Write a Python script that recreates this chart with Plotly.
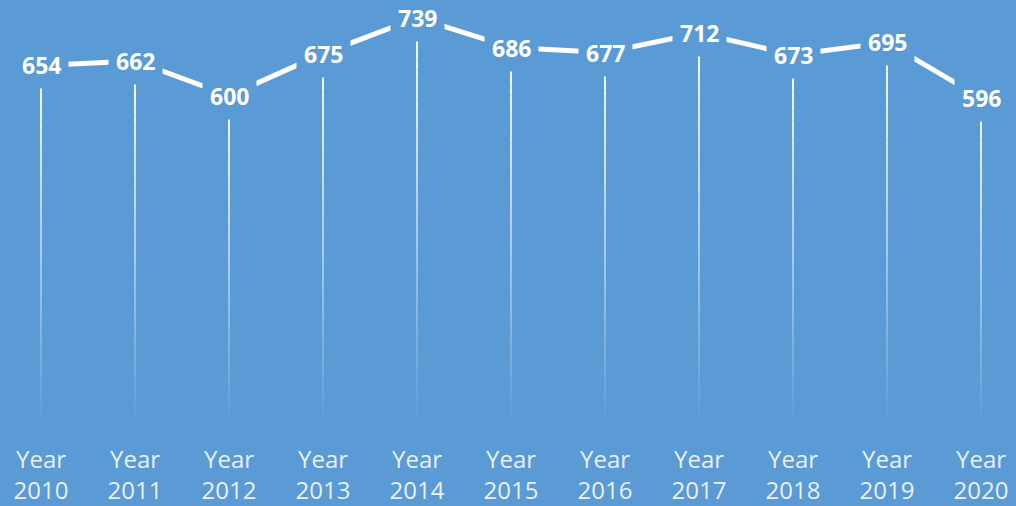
import plotly.graph_objects as go

years = ["2010", "2011", "2012", "2013", "2014", "2015", "2016", "2017", "2018", "2019", "2020"]
values = [654, 662, 600, 675, 739, 686, 677, 712, 673, 695, 596]
tick_labels = ["Year<br>" + y for y in years]

BG = "#5A9AD5"
fig = go.Figure()

# fading drop lines: split each into levels with increasing opacity toward the top
N = 40
for k in range(N):
    xs, ys = [], []
    for i, v in enumerate(values):
        xs += [i, i, None]
        ys += [v * k / N, v * (k + 1) / N, None]
    alpha = ((k + 0.5) / N) ** 1.0
    fig.add_trace(go.Scatter(
        x=xs, y=ys, mode="lines",
        line=dict(color=f"rgba(255,255,255,{alpha:.3f})", width=2),
        hoverinfo="skip", showlegend=False,
    ))

fig.add_trace(go.Scatter(
    x=list(range(len(values))), y=values, mode="lines",
    line=dict(color="white", width=5),
    showlegend=False,
))

for i, v in enumerate(values):
    fig.add_annotation(
        x=i, y=v, text=f"<b>{v}</b>", showarrow=False,
        font=dict(family="Open Sans", size=23, color="white"),
        bgcolor=BG, borderpad=7,
    )

fig.update_layout(
    width=1016, height=506,
    margin=dict(l=0, r=0, t=0, b=75),
    paper_bgcolor=BG, plot_bgcolor=BG,
    xaxis=dict(
        range=[-41 / 94, 10 + 35 / 94],
        tickmode="array", tickvals=list(range(len(values))), ticktext=tick_labels,
        showgrid=False, zeroline=False, showline=False, ticks="",
        ticklabelstandoff=12,
        tickfont=dict(family="Open Sans", size=24, color="rgba(255,255,255,0.88)"),
    ),
    yaxis=dict(range=[0, 771], visible=False),
)

fig.write_html(
    "out.html",
    config={"displayModeBar": False},
    post_script="document.body.style.margin='0';document.body.style.background='" + BG + "';",
)
